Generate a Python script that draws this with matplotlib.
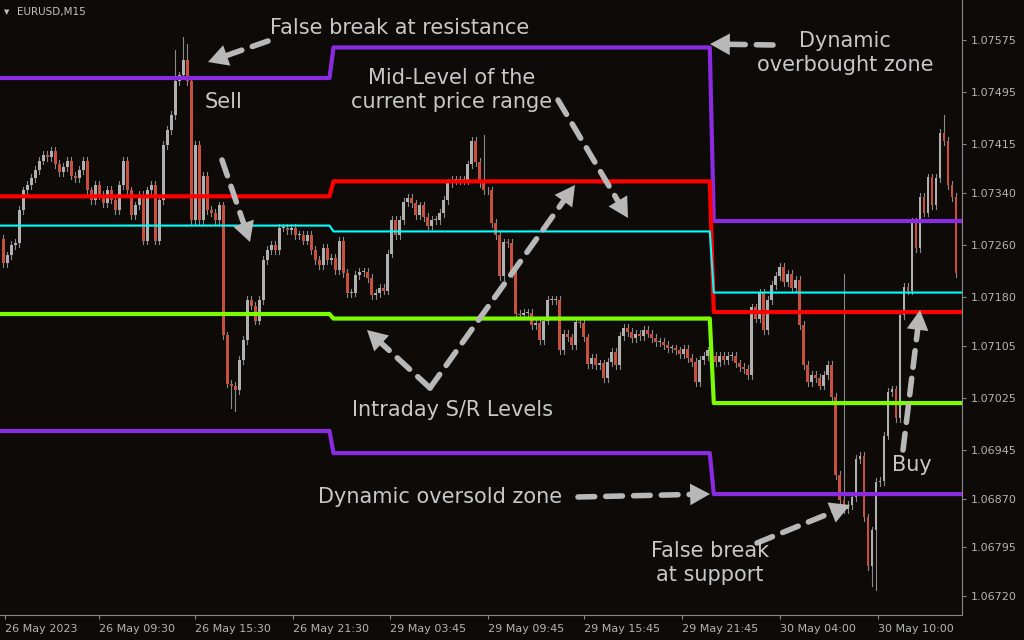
import matplotlib.pyplot as plt
import numpy as np

# closes of EURUSD M15 candles, in 1e-5 units (open = previous close)
closes = [
    107232, 107244, 107260, 107263, 107314, 107344, 107352, 107363, 107375, 107390,
    107398, 107395, 107405, 107385, 107372, 107380, 107390, 107367, 107363, 107375,
    107390, 107344, 107329, 107352, 107337, 107325, 107345, 107330, 107314, 107352,
    107390, 107344, 107306, 107321, 107337, 107267, 107344, 107352, 107267, 107329,
    107414, 107437, 107460, 107513, 107521, 107544, 107513, 107298, 107414, 107298,
    107367, 107314, 107310, 107298, 107321, 107121, 107047, 107044, 107037, 107083,
    107114, 107175, 107167, 107144, 107175, 107237, 107252, 107260, 107252, 107287,
    107287, 107283, 107286, 107275, 107275, 107267, 107275, 107252, 107237, 107229,
    107255, 107237, 107240, 107221, 107267, 107217, 107186, 107187, 107214, 107218,
    107218, 107209, 107183, 107186, 107194, 107190, 107247, 107298, 107275, 107298,
    107326, 107332, 107324, 107306, 107321, 107303, 107290, 107298, 107298, 107309,
    107329, 107355, 107360, 107360, 107360, 107360, 107384, 107420, 107388, 107355,
    107344, 107344, 107294, 107275, 107212, 107264, 107263, 107217, 107154, 107152,
    107155, 107155, 107137, 107140, 107114, 107144, 107175, 107175, 107175, 107098,
    107124, 107118, 107106, 107141, 107140, 107118, 107077, 107087, 107075, 107078,
    107055, 107080, 107095, 107075, 107120, 107132, 107126, 107117, 107124, 107120,
    107129, 107124, 107117, 107111, 107111, 107106, 107101, 107101, 107098, 107093,
    107100, 107086, 107080, 107049, 107083, 107090,
    107098, 107090, 107080, 107090, 107083, 107090, 107090, 107078, 107072, 107070,
    107060, 107164, 107147, 107186, 107129, 107175, 107198, 107212, 107226, 107203,
    107215, 107194, 107206, 107137, 107075, 107050, 107060, 107055, 107044, 107060,
    107075, 107027, 106906, 106868, 106854, 106860, 106872, 106931, 106935, 106841,
    106766, 106821, 106895, 106897, 106967, 107034, 107038, 106994, 107152, 107195,
    107190, 107295, 107255, 107334, 107310, 107364, 107321, 107363, 107433, 107420,
    107352, 107334, 107217,
]
first_open = 107270
# notable wick extremes (candle index: price)
extra_highs = {43: 107560, 45: 107580, 46: 107570, 120: 107430, 210: 107215, 235: 107460}
extra_lows = {57: 107010, 58: 107005, 216: 106830, 217: 106735, 218: 106730}

# indicator levels per session: [day1, day2, day3]
upper_zone = [107517, 107564, 107297]
resistance = [107335, 107358, 107157]
mid_level = [107290, 107281, 107187]
support = [107154, 107147, 107017]
lower_zone = [106974, 106940, 106877]
session_starts = [0, 82, 177]

yticks = [107575, 107495, 107415, 107340, 107260, 107180, 107105, 107025, 106945, 106870, 106795, 106720]
xtick_pos = [0.5, 24, 48, 72.5, 96.5, 121, 145, 169.5, 194, 218.5]
xtick_labels = ["26 May 2023", "26 May 09:30", "26 May 15:30", "26 May 21:30", "29 May 03:45",
                "29 May 09:45", "29 May 15:45", "29 May 21:45", "30 May 04:00", "30 May 10:00"]

bg = "#0d0a08"
fig = plt.figure(figsize=(10.24, 6.4), dpi=100, facecolor=bg)
ax = fig.add_axes([0.0, 25 / 640, 962 / 1024, 615 / 640], facecolor=bg)

n = len(closes)
opens = [first_open] + closes[:-1]
for i in range(n):
    o, c = opens[i], closes[i]
    hi = max(extra_highs.get(i, 0), max(o, c) + 6)
    lo = min(extra_lows.get(i, 10**7), min(o, c) - 6)
    ax.plot([i, i], [lo, hi], color="#8a8a8a", lw=0.8, zorder=2)
    col = "#b0b0b0" if c >= o else "#c8503e"
    h = max(abs(c - o), 1.5)
    ax.bar(i, h, bottom=min(o, c), width=0.7, color=col, zorder=3, linewidth=0)

end = n + 0.5
def level_line(levels, color, lw):
    xs, ys = [-1], [levels[0]]
    for k in range(1, len(levels)):
        s = session_starts[k]
        xs += [s - 0.5, s + 0.5]
        ys += [levels[k - 1], levels[k]]
    xs.append(end)
    ys.append(levels[-1])
    ax.plot(xs, ys, color=color, lw=lw, zorder=4, solid_capstyle="butt")

level_line(upper_zone, "#8a2be2", 3)
level_line(lower_zone, "#8a2be2", 3)
level_line(resistance, "#ff0000", 3)
level_line(support, "#7cfc00", 3)
level_line(mid_level, "#00ffff", 1.5)

ax.set_xlim(-0.8, end)
ax.set_ylim(106691, 107637)
ax.yaxis.tick_right()
ax.set_yticks(yticks)
ax.set_yticklabels([f"{v / 100000:.5f}" for v in yticks])
ax.set_xticks(xtick_pos)
ax.set_xticklabels(xtick_labels, ha="left")
ax.tick_params(colors="#b4b4b4", labelsize=8, length=3, color="#888888")
for sp in ["top", "left"]:
    ax.spines[sp].set_visible(False)
for sp in ["right", "bottom"]:
    ax.spines[sp].set_color("#888888")

fig.text(4 / 1024, 1 - 12 / 640, "\u25BC", color="#c0c0c0", fontsize=5, va="center")
fig.text(17 / 1024, 1 - 12 / 640, "EURUSD,M15", color="#c0c0c0", fontsize=7.5, va="center")

tc = "#c8c8c8"
def ftxt(x, y, s, ha="center"):
    fig.text(x / 1024, 1 - y / 640, s, color=tc, fontsize=15, ha=ha, va="center", linespacing=1.2)

def darrow(x0, y0, x1, y1):
    p0 = (x0 / 1024, 1 - y0 / 640)
    p1 = (x1 / 1024, 1 - y1 / 640)
    ax.annotate("", xy=p1, xytext=p0, xycoords="figure fraction", textcoords="figure fraction",
                arrowprops=dict(arrowstyle="-", linestyle=(0, (3, 2)), lw=4, color="#b8b8b8",
                                shrinkA=0, shrinkB=10), zorder=6)
    ax.annotate("", xy=p1, xytext=p0, xycoords="figure fraction", textcoords="figure fraction",
                arrowprops=dict(arrowstyle="-|>,head_length=1.1,head_width=0.6", lw=0, color="#b8b8b8",
                                shrinkA=0, shrinkB=0, mutation_scale=13), zorder=6)

ftxt(400, 28, "False break at resistance")
darrow(268, 41, 208, 62)
ftxt(224, 102, "Sell")
darrow(222, 160, 250, 242)
ftxt(452, 90, "Mid-Level of the\ncurrent price range")
darrow(558, 100, 628, 218)
ftxt(452, 410, "Intraday S/R Levels")
darrow(430, 388, 575, 185)
darrow(430, 388, 367, 330)
ftxt(845, 53, "Dynamic\noverbought zone")
darrow(773, 45, 710, 44)
ftxt(440, 497, "Dynamic oversold zone")
darrow(578, 497, 710, 494)
ftxt(710, 563, "False break\nat support")
darrow(757, 543, 850, 505)
ftxt(912, 465, "Buy")
darrow(903, 450, 920, 310)

fig.savefig("out.png", facecolor=bg)
